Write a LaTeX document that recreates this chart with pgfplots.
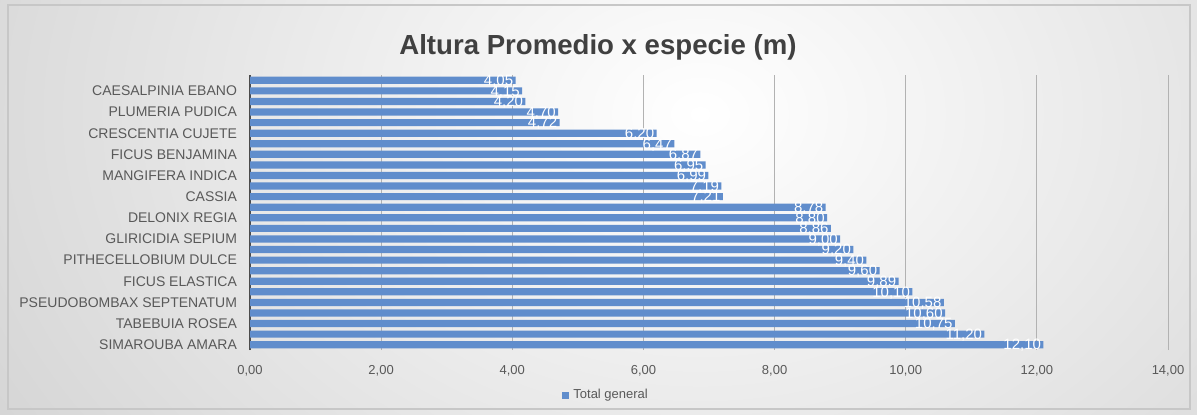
\documentclass[border=0pt]{standalone}
\usepackage{pgfplots}
\pgfplotsset{compat=1.18}
\usepackage{fontspec}
\setmainfont{Liberation Sans}
\definecolor{barblue}{RGB}{96,141,204}
\definecolor{txtgray}{RGB}{89,89,89}
\definecolor{titlegray}{RGB}{64,64,64}
\begin{document}
\begin{tikzpicture}[x=0.5pt,y=0.5pt]
\begin{scope}
\clip (0,0) rectangle (1197,414);
\fill[black!20] (0,0) rectangle (1197,414);
\shade[inner color=white, outer color=black!20] (-300,-450) rectangle (1700,1050);
\end{scope}
\draw[black!22, line width=0.6pt] (8,5) rectangle (1190,409);
\node[font=\fontsize{13.8}{16}\selectfont\bfseries, text=titlegray] at (598,367) {Altura Promedio x especie (m)};
\begin{axis}[
  at={(125pt,32pt)}, anchor=south west,
  scale only axis, width=459pt, height=137.5pt,
  xbar, bar width=3.6pt,
  xmin=0, xmax=14, ymin=0.5, ymax=26.5,
  xtick={0,2,...,14},
  ytick={1,3,...,25},
  yticklabels={SIMAROUBA AMARA, TABEBUIA ROSEA, PSEUDOBOMBAX SEPTENATUM, FICUS ELASTICA, PITHECELLOBIUM DULCE, GLIRICIDIA SEPIUM, DELONIX REGIA, CASSIA, MANGIFERA INDICA, FICUS BENJAMINA, CRESCENTIA CUJETE, PLUMERIA PUDICA, CAESALPINIA EBANO},
  axis y line*=left, axis x line*=bottom,
  x axis line style={draw=none},
  y axis line style={draw=black!70, line width=0.8pt, -},
  major tick length=0pt,
  xmajorgrids, grid style={black!30, line width=0.5pt},
  xticklabel style={font=\fontsize{6.5}{8}\selectfont, text=txtgray, yshift=-4pt,
    /pgf/number format/.cd, fixed, fixed zerofill, precision=2, use comma, assume math mode=true},
  yticklabel style={font=\fontsize{7}{8}\selectfont, text=txtgray, xshift=-3pt},
  point meta=x,
  nodes near coords={\pgfmathprintnumber[fixed,fixed zerofill,precision=2,use comma,assume math mode=true]{\pgfplotspointmeta}},
  every node near coord/.append style={anchor=east, text=white, font=\fontsize{7.5}{8}\selectfont, inner sep=1pt, yshift=-0.5pt},
  legend style={at={(0.389,-0.164)}, anchor=center, draw=none, fill=none,
    font=\fontsize{6.5}{8}\selectfont, text=txtgray},
  legend image code/.code={\fill[barblue] (0pt,-1.75pt) rectangle (3.5pt,1.75pt);},
]
\addplot[fill=barblue, draw=none] coordinates {
(12.10,1) (11.20,2) (10.75,3) (10.60,4) (10.58,5) (10.10,6) (9.89,7) (9.60,8) (9.40,9)
(9.20,10) (9.00,11) (8.86,12) (8.80,13) (8.78,14) (7.21,15) (7.19,16) (6.99,17) (6.95,18)
(6.87,19) (6.47,20) (6.20,21) (4.72,22) (4.70,23) (4.20,24) (4.15,25) (4.05,26)
};
\addlegendentry{Total general}
\end{axis}
\end{tikzpicture}
\end{document}
